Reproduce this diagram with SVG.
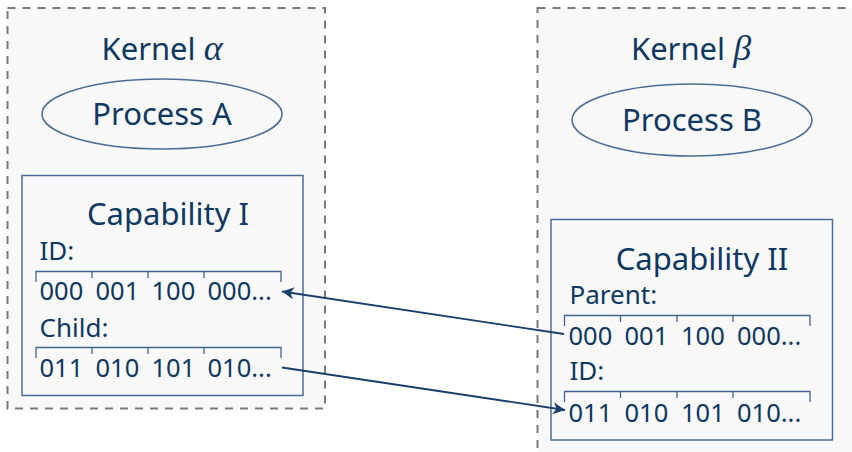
<svg xmlns="http://www.w3.org/2000/svg" width="852" height="452" viewBox="0 0 852 452">
<style>
.kernel{fill:#f8f8f8;stroke:#7a7a7a;stroke-width:2;stroke-dasharray:8 7}
.cap{fill:#f8f8f8;stroke:#4a6d96;stroke-width:1.5}
.proc{fill:none;stroke:#4a6d96;stroke-width:1.5}
.t{font-family:"Noto Sans","Open Sans","DejaVu Sans",sans-serif;fill:#0f3861}
.title{font-size:31px;text-anchor:middle}
.lbl{font-size:26px}
.dig{font-size:25.5px}
.greek{font-family:"Liberation Serif","DejaVu Serif",serif;font-style:italic;font-size:36px}
.br{fill:none;stroke:#3f6590;stroke-width:1.3}
.conn{fill:none;stroke:#173f6b;stroke-width:1.8}
</style>
<defs>
<marker id="ah" markerUnits="userSpaceOnUse" markerWidth="14" markerHeight="14" viewBox="0 0 14 14" refX="12" refY="7" orient="auto">
<path d="M0,1 L12,7 L0,13 L3.5,7 Z" fill="#173f6b"/>
</marker>
</defs>
<rect width="852" height="452" fill="#ffffff"/>
<g id="kernel-alpha">
<rect class="kernel" x="7.5" y="8" width="317.5" height="400.5"/>
<text class="t title" x="162" y="60">Kernel <tspan class="greek">α</tspan></text>
</g>
<g id="kernel-beta">
<rect class="kernel" x="537.5" y="8" width="330" height="460"/>
<text class="t title" x="691" y="60">Kernel <tspan class="greek">β</tspan></text>
</g>
<g id="process-a">
<ellipse class="proc" cx="162" cy="114" rx="120" ry="35"/>
<text class="t title" x="162" y="125">Process A</text>
</g>
<g id="process-b">
<ellipse class="proc" cx="692" cy="120" rx="120" ry="36"/>
<text class="t title" x="692" y="131">Process B</text>
</g>
<g id="capability-1">
<rect class="cap" x="22" y="175.5" width="281" height="220"/>
<text class="t title" x="168" y="225">Capability I</text>
<text class="t lbl" x="39.5" y="260">ID:</text>
<path class="br" d="M36,282 V271.5 H281 V282 M92,271.5 V278 M148,271.5 V278 M204,271.5 V278"/>
<text class="t dig" x="39.5" y="300">000</text>
<text class="t dig" x="95.5" y="300">001</text>
<text class="t dig" x="151.5" y="300">100</text>
<text class="t dig" x="207.5" y="300">000...</text>
<text class="t lbl" x="39.5" y="336.5">Child:</text>
<path class="br" d="M36,358 V347.5 H281 V358 M92,347.5 V354 M148,347.5 V354 M204,347.5 V354"/>
<text class="t dig" x="39.5" y="376.5">011</text>
<text class="t dig" x="95.5" y="376.5">010</text>
<text class="t dig" x="151.5" y="376.5">101</text>
<text class="t dig" x="207.5" y="376.5">010...</text>
</g>
<g id="capability-2">
<rect class="cap" x="551" y="219.5" width="281.5" height="220.5"/>
<text class="t title" x="702" y="270">Capability II</text>
<text class="t lbl" x="569.5" y="304">Parent:</text>
<path class="br" d="M564.5,326 V315.5 H810 V326 M620.5,315.5 V322 M677,315.5 V322 M733,315.5 V322"/>
<text class="t dig" x="568.5" y="345">000</text>
<text class="t dig" x="624.5" y="345">001</text>
<text class="t dig" x="681" y="345">100</text>
<text class="t dig" x="737" y="345">000...</text>
<text class="t lbl" x="569.5" y="380">ID:</text>
<path class="br" d="M564.5,402 V391.5 H810 V402 M620.5,391.5 V398 M677,391.5 V398 M733,391.5 V398"/>
<text class="t dig" x="568.5" y="421.5">011</text>
<text class="t dig" x="624.5" y="421.5">010</text>
<text class="t dig" x="681" y="421.5">101</text>
<text class="t dig" x="737" y="421.5">010...</text>
</g>
<g id="connectors">
<line class="conn" x1="564" y1="334" x2="282" y2="291.5" marker-end="url(#ah)"/>
<line class="conn" x1="282" y1="367.5" x2="565" y2="410" marker-end="url(#ah)"/>
</g>
</svg>
